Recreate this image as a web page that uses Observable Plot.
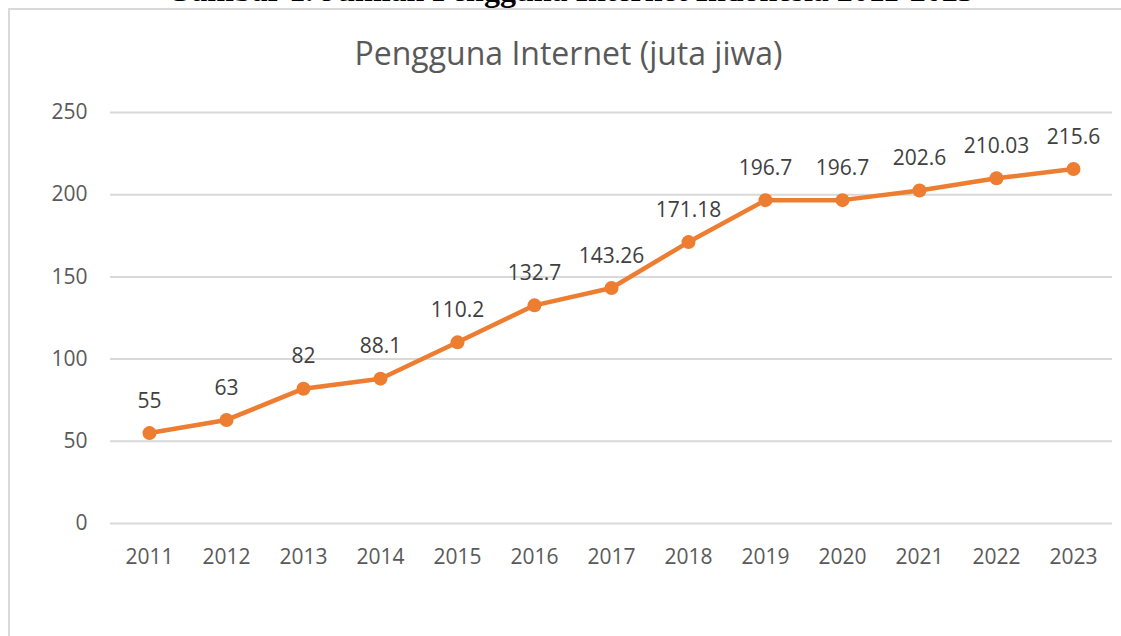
<!DOCTYPE html>
<html>
<head>
<meta charset="utf-8">
<script src="https://cdn.jsdelivr.net/npm/d3@7"></script>
<script src="https://cdn.jsdelivr.net/npm/@observablehq/plot@0.6"></script>
<style>
  html, body { margin: 0; padding: 0; background: #fff; width: 1121px; height: 636px; overflow: hidden; }
  #wrap { position: relative; width: 1121px; height: 636px; }
  #caption { position: absolute; left: 0; width: 1140px; top: -28px; text-align: center;
    font-family: "Liberation Serif", "Times New Roman", serif; font-weight: bold; font-size: 32px; color: #000; white-space: nowrap; }
  #frame { position: absolute; left: 8px; top: 8px; width: 1130px; height: 640px; border: 2px solid #d9d9d9; box-sizing: border-box; }
  #title { position: absolute; left: 0; width: 1137px; top: 31px; text-align: center;
    font-family: "Open Sans", sans-serif; font-size: 32px; line-height: 44px; color: #595959; }
  #chart { position: absolute; left: 0; top: 0; }
</style>
</head>
<body>
<div id="wrap">
  <div id="frame"></div>
  <div id="caption">Gambar 1. Jumlah Pengguna Internet Indonesia 2011-2023</div>
  <div id="title">Pengguna Internet (juta jiwa)</div>
  <div id="chart"></div>
</div>
<script>
const years = ["2011","2012","2013","2014","2015","2016","2017","2018","2019","2020","2021","2022","2023"];
const users = [55, 63, 82, 88.1, 110.2, 132.7, 143.26, 171.18, 196.7, 196.7, 202.6, 210.03, 215.6];
const labels = ["55","63","82","88.1","110.2","132.7","143.26","171.18","196.7","196.7","202.6","210.03","215.6"];
const yTicks = [0, 50, 100, 150, 200, 250];

const data = years.map((y, i) => ({year: y, value: users[i], label: labels[i]}));

const chart = Plot.plot({
  width: 1121,
  height: 636,
  marginLeft: 110,
  marginRight: 9,
  marginTop: 112,
  marginBottom: 113,
  style: {fontFamily: "'Open Sans', sans-serif", fontSize: "21px", color: "#595959", background: "transparent"},
  x: {type: "point", domain: years, padding: 0.5, label: null},
  y: {domain: [0, 250], ticks: yTicks, label: null},
  marks: [
    Plot.ruleY(yTicks, {stroke: "#d9d9d9", strokeWidth: 2}),
    Plot.axisY({ticks: yTicks, tickSize: 0, tickPadding: 23, label: null, fill: "#595959", fontSize: 21}),
    Plot.axisX({tickSize: 0, tickPadding: 26, label: null, fill: "#595959", fontSize: 21}),
    Plot.line(data, {x: "year", y: "value", stroke: "#ED7D31", strokeWidth: 4.5}),
    Plot.dot(data, {x: "year", y: "value", r: 7, fill: "#ED7D31", stroke: "none"}),
    Plot.text(data, {x: "year", y: "value", text: "label", dy: -32, fill: "#404040", fontSize: 21})
  ]
});
document.getElementById("chart").appendChild(chart);
</script>
</body>
</html>
